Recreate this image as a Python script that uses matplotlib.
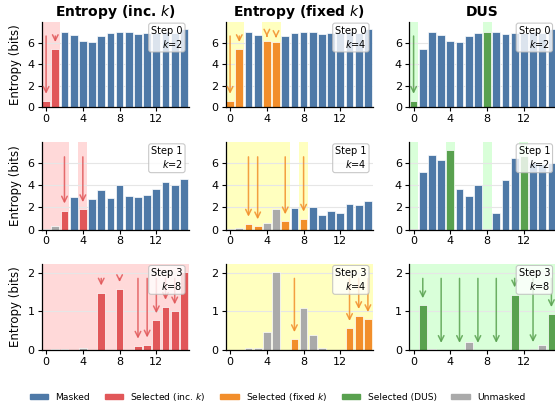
import numpy as np
import matplotlib.pyplot as plt
from matplotlib.patches import Patch

# entropy per position (16 positions), rows = steps, cols = methods
inc_step0 = [0.6, 5.42, 7.0, 6.78, 6.19, 6.06, 6.68, 6.9, 7.06, 7.03, 6.87, 6.93, 6.95, 7.0, 6.9, 7.25]
fix_step0 = [0.6, 5.42, 7.0, 6.78, 6.19, 6.06, 6.68, 6.9, 7.06, 7.03, 6.87, 6.93, 6.95, 7.0, 6.9, 7.25]
dus_step0 = [0.6, 5.42, 7.0, 6.78, 6.19, 6.06, 6.68, 6.9, 7.06, 7.03, 6.87, 6.93, 6.95, 7.0, 6.9, 7.25]

inc_step1 = [0.02, 0.27, 1.69, 2.95, 1.81, 2.74, 3.5, 2.86, 4.0, 3.04, 2.92, 3.13, 3.65, 4.25, 3.98, 4.52]
fix_step1 = [0.02, 0.15, 0.51, 0.27, 0.6, 1.84, 0.72, 1.93, 0.96, 2.05, 1.27, 1.69, 1.48, 2.26, 2.23, 2.53]
dus_step1 = [0.02, 5.19, 6.72, 6.21, 7.11, 3.62, 3.04, 3.98, 0.05, 1.51, 4.43, 6.45, 6.6, 6.0, 5.9, 6.0]

inc_step3 = [0.0, 0.02, 0.03, 0.0, 0.06, 0.0, 1.49, 0.0, 1.58, 0.01, 0.11, 0.14, 0.77, 1.12, 1.0, 2.03]
fix_step3 = [0.0, 0.0, 0.06, 0.04, 0.47, 2.03, 0.01, 0.28, 1.1, 0.4, 0.05, 0.0, 0.0, 0.57, 0.88, 0.8]
dus_step3 = [0.0, 1.16, 0.02, 0.0, 0.0, 0.0, 0.2, 0.0, 0.0, 0.0, 0.0, 1.44, 0.0, 0.02, 0.12, 0.93]

# M = masked, S = selected this step, U = already unmasked
inc_state0 = "SSMMMMMMMMMMMMMM"
fix_state0 = "SSMMSSMMMMMMMMMM"
dus_state0 = "SMMMMMMMSMMMMMMM"
inc_state1 = "UUSMSMMMMMMMMMMM"
fix_state1 = "UUSSUUSMSMMMMMMM"
dus_state1 = "UMMMSMMMUMMMSMMM"
inc_state3 = "UUUUUUSUSUSSSSSS"
fix_state3 = "UUUUUUUSUUUUUSSS"
dus_state3 = "USUSUSUSUSUSUSUS"

methods = ["Entropy (inc. $k$)", "Entropy (fixed $k$)", "DUS"]
steps = [0, 1, 3]
k_vals = [[2, 4, 2], [2, 4, 2], [8, 4, 8]]

values = [[inc_step0, fix_step0, dus_step0],
          [inc_step1, fix_step1, dus_step1],
          [inc_step3, fix_step3, dus_step3]]
states = [[inc_state0, fix_state0, dus_state0],
          [inc_state1, fix_state1, dus_state1],
          [inc_state3, fix_state3, dus_state3]]

c_masked = "#4e79a7"
c_unmasked = "#aaaaaa"
sel_colors = ["#e15759", "#f28e2b", "#59a14f"]
shade_colors = [("red", 0.15), ("yellow", 0.25), ("lime", 0.15)]

fig = plt.figure(figsize=(5.55, 4.07), dpi=100)
lefts = [41.5, 225.5, 409]
rows = [(21.7, 107.3), (142.3, 229.5), (264, 350)]
W, H = 555.0, 407.0

for r in range(3):
    row_max = max(max(v) for v in values[r])
    ymax = row_max * 1.1
    for c in range(3):
        top, bot = rows[r]
        ax = fig.add_axes([lefts[c] / W, (H - bot) / H, 147 / W, (bot - top) / H])
        vals = np.array(values[r][c])
        st = states[r][c]
        x = np.arange(len(vals))

        # shaded spans over non-masked positions
        i = 0
        while i < len(st):
            if st[i] != "M":
                j = i
                while j + 1 < len(st) and st[j + 1] != "M":
                    j += 1
                ax.axvspan(i - 0.5, j + 0.5, color=shade_colors[c][0],
                           alpha=shade_colors[c][1], lw=0, zorder=0)
                i = j + 1
            else:
                i += 1

        cols = [c_masked if s == "M" else sel_colors[c] if s == "S" else c_unmasked for s in st]
        ax.bar(x, vals, width=0.85, color=cols, edgecolor="white", linewidth=0.5, zorder=2)

        start = 0.865 * ymax
        for xi, v, s in zip(x, vals, st):
            end = v + 0.05 * ymax
            if s == "S" and end < start - 0.02 * ymax:
                ax.annotate("", xy=(xi, end), xytext=(xi, start),
                            arrowprops=dict(arrowstyle="->", color=sel_colors[c],
                                            lw=1.1, alpha=0.85), zorder=3)

        ax.set_xlim(-0.5, 15.5)
        ax.set_ylim(0, ymax)
        ax.set_xticks([0, 4, 8, 12])
        ax.set_yticks([0, 1, 2] if r == 2 else [0, 2, 4, 6])
        ax.tick_params(labelsize=8, length=3, width=0.8, pad=2)
        ax.grid(axis="y", color="#e6e6e6", lw=0.8, zorder=1)
        ax.set_axisbelow(True)
        for side in ["top", "right"]:
            ax.spines[side].set_visible(False)
        for side in ["left", "bottom"]:
            ax.spines[side].set_linewidth(0.9)
        ax.text(0.96, 0.955, "Step %d\n$k$=%d" % (steps[r], k_vals[r][c]),
                transform=ax.transAxes, ha="right", va="top", fontsize=7,
                multialignment="right", zorder=5,
                bbox=dict(boxstyle="round,pad=0.25", fc="white", ec="#bbbbbb",
                          alpha=0.8, lw=0.8))
        if r == 0:
            ax.set_title(methods[c], fontsize=10, fontweight="bold", pad=4)
        if c == 0:
            ax.set_ylabel("Entropy (bits)", fontsize=8.5, labelpad=4)

handles = [Patch(color=c_masked, label="Masked"),
           Patch(color=sel_colors[0], label="Selected (inc. $k$)"),
           Patch(color=sel_colors[1], label="Selected (fixed $k$)"),
           Patch(color=sel_colors[2], label="Selected (DUS)"),
           Patch(color=c_unmasked, label="Unmasked")]
fig.legend(handles=handles, loc="lower center", bbox_to_anchor=(0.5, -0.01), ncol=5,
           frameon=False, fontsize=6.6, handlelength=2.0, handleheight=0.6,
           handletextpad=0.8, columnspacing=1.6)

fig.savefig("out.png", dpi=100)
